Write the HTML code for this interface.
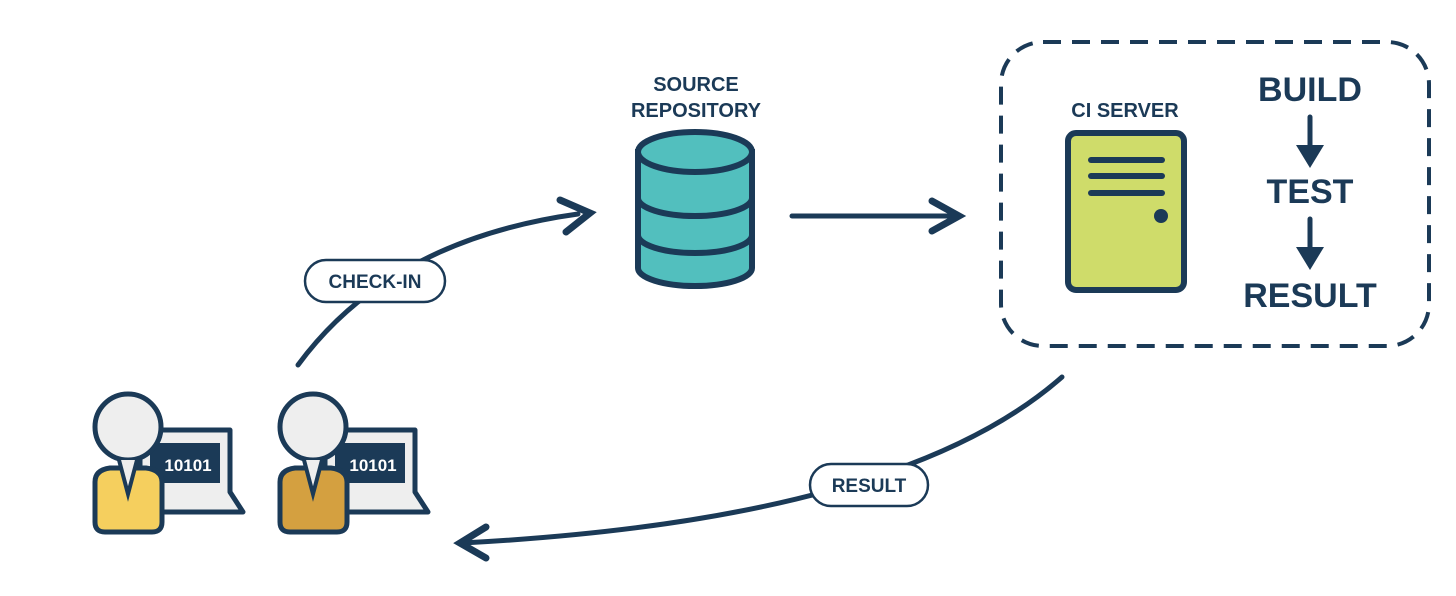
<!DOCTYPE html>
<html><head><meta charset="utf-8"><style>
html,body{margin:0;padding:0;background:#fff;}
svg{display:block;}
text{font-family:"Liberation Sans",sans-serif;font-weight:bold;fill:#1b3a57;}
</style></head><body>
<svg width="1456" height="596" viewBox="0 0 1456 596">
<g stroke="#1b3a57" fill="none" stroke-width="5" stroke-linecap="round">
<path d="M298 365 Q390 240 578 214"/>
<path d="M560 200 L590 213 L566 232" stroke-width="7" stroke-linejoin="miter"/>
<path d="M792 216 L955 216"/>
<path d="M932 201 L959 216 L932 231" stroke-width="7" stroke-linejoin="miter"/>
<path d="M1062 377 Q900 520 462 543"/>
<path d="M486 527 L460 543 L486 558" stroke-width="7" stroke-linejoin="miter"/>
<path d="M1310 117 L1310 160"/>
<path d="M1310 219 L1310 262"/>
</g>
<g fill="#1b3a57">
<polygon points="1296,145 1324,145 1310,168"/>
<polygon points="1296,247 1324,247 1310,270"/>
</g>
<rect x="1001" y="42" width="428" height="304" rx="42" fill="none" stroke="#1b3a57" stroke-width="4" stroke-dasharray="18 11"/>
<rect x="305" y="260" width="140" height="42" rx="21" fill="#fff" stroke="#1b3a57" stroke-width="2.5"/>
<text x="375" y="288" font-size="19" text-anchor="middle">CHECK-IN</text>
<rect x="810" y="464" width="118" height="42" rx="21" fill="#fff" stroke="#1b3a57" stroke-width="2.5"/>
<text x="869" y="492" font-size="19" text-anchor="middle">RESULT</text>
<text x="696" y="91" font-size="20" text-anchor="middle">SOURCE</text>
<text x="696" y="117" font-size="20" text-anchor="middle">REPOSITORY</text>
<g stroke="#1b3a57" stroke-width="6" fill="#52bfbe">
<path d="M638 152 L638 268 A57 18 0 0 0 752 268 L752 152 Z"/>
<ellipse cx="695" cy="152" rx="57" ry="20"/>
<path d="M638 198 A57 18 0 0 0 752 198" fill="none"/>
<path d="M638 235 A57 18 0 0 0 752 235" fill="none"/>
</g>
<text x="1125" y="117" font-size="20" text-anchor="middle">CI SERVER</text>
<rect x="1068" y="133" width="116" height="157" rx="8" fill="#cfdc6a" stroke="#1b3a57" stroke-width="6"/>
<g stroke="#1b3a57" stroke-width="6" stroke-linecap="round">
<line x1="1091" y1="160" x2="1162" y2="160"/>
<line x1="1091" y1="176" x2="1162" y2="176"/>
<line x1="1091" y1="193" x2="1162" y2="193"/>
</g>
<circle cx="1161" cy="216" r="7" fill="#1b3a57"/>
<text x="1310" y="101" font-size="34" text-anchor="middle">BUILD</text>
<text x="1310" y="203" font-size="34" text-anchor="middle">TEST</text>
<text x="1310" y="307" font-size="34" text-anchor="middle">RESULT</text>
<g>
<path d="M140 430 L230 430 L230 492 L243 512 L140 512 Z" fill="#eee" stroke="#1b3a57" stroke-width="5" stroke-linejoin="round"/>
<rect x="150" y="443" width="70" height="40" fill="#1b3a57"/>
<text x="188" y="471" font-size="17" style="fill:#fff" text-anchor="middle">10101</text>
<path d="M95 482 Q95 470 110 468 L146 468 Q162 470 162 482 L162 522 Q162 532 152 532 L105 532 Q95 532 95 522 Z" fill="#f5cf5e" stroke="#1b3a57" stroke-width="5"/>
<circle cx="128" cy="427" r="33" fill="#eee" stroke="#1b3a57" stroke-width="5"/>
<path d="M119 460 L128 494 L137 460" fill="#eee" stroke="#1b3a57" stroke-width="4"/>
</g>
<g transform="translate(185,0)">
<path d="M140 430 L230 430 L230 492 L243 512 L140 512 Z" fill="#eee" stroke="#1b3a57" stroke-width="5" stroke-linejoin="round"/>
<rect x="150" y="443" width="70" height="40" fill="#1b3a57"/>
<text x="188" y="471" font-size="17" style="fill:#fff" text-anchor="middle">10101</text>
<path d="M95 482 Q95 470 110 468 L146 468 Q162 470 162 482 L162 522 Q162 532 152 532 L105 532 Q95 532 95 522 Z" fill="#d4a040" stroke="#1b3a57" stroke-width="5"/>
<circle cx="128" cy="427" r="33" fill="#eee" stroke="#1b3a57" stroke-width="5"/>
<path d="M119 460 L128 494 L137 460" fill="#eee" stroke="#1b3a57" stroke-width="4"/>
</g>
</svg>
</body></html>
